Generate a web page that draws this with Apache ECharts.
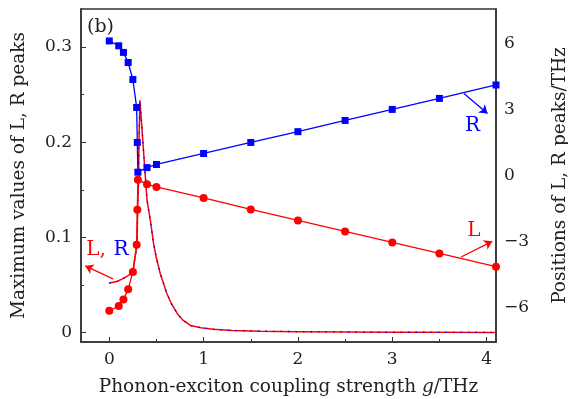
<!DOCTYPE html>
<html>
<head>
<meta charset="utf-8">
<script src="https://cdn.jsdelivr.net/npm/echarts@6/dist/echarts.min.js"></script>
<style>
  html, body { margin: 0; padding: 0; background: #fff; }
  #chart { width: 568px; height: 399px; }
</style>
</head>
<body>
<div id="chart"></div>
<script>
// coupling strength g (THz) for the marker series
var gPeaks = [0, 0.1, 0.15, 0.2, 0.25, 0.29, 0.297, 0.303, 0.4, 0.5, 1, 1.5, 2, 2.5, 3, 3.5, 4.1];
// positions of the R and L peaks (THz), right axis
var rPos = [6.10, 5.88, 5.58, 5.12, 4.35, 3.08, 1.49, 0.14, 0.35, 0.49, 0.99, 1.49, 1.98, 2.49, 2.99, 3.49, 4.10];
var lPos = [-6.15, -5.94, -5.64, -5.17, -4.39, -3.15, -1.56, -0.20, -0.41, -0.53, -1.03, -1.55, -2.05, -2.55, -3.05, -3.55, -4.15];

// maximum values of L, R peaks (left axis), L and R curves coincide
var gMax = [0, 0.08, 0.17, 0.22, 0.25, 0.294, 0.30, 0.31, 0.315, 0.325, 0.36, 0.4, 0.435, 0.47, 0.5, 0.54, 0.61, 0.66, 0.72, 0.78, 0.86, 0.97, 1.1, 1.3, 1.6, 2, 2.5, 3, 3.5, 4.1];
var maxL = [0.052, 0.0535, 0.058, 0.061, 0.064, 0.092, 0.128, 0.16, 0.202, 0.244, 0.195, 0.139, 0.118, 0.093, 0.078, 0.062, 0.041, 0.030, 0.020, 0.013, 0.0074, 0.005, 0.0035, 0.0022, 0.0014, 0.0009, 0.0005, 0.0003, 0.0002, 0.0001];
var maxR = maxL.slice();

var xTicks = [0, 1, 2, 3, 4];
var xMinor = [0.5, 1.5, 2.5, 3.5];
var yLeftTicks = [0, 0.1, 0.2, 0.3];
var yLeftMinor = [0.05, 0.15, 0.25];
var yRightTicks = [-6, -3, 0, 3, 6];

function pairs(xs, ys) {
  return xs.map(function (x, i) { return [x, ys[i]]; });
}

var FONT = "DejaVu Serif";
var AXIS = "#333";
var TEXT = "#222";
var RED = "#ff0000";
var BLUE = "#0000ff";

var chart = echarts.init(document.getElementById("chart"));

var option = {
  animation: false,
  backgroundColor: "#fff",
  textStyle: { fontFamily: FONT },
  grid: {
    left: 81, right: 72, top: 9, bottom: 57, containLabel: false, outerBoundsMode: "none",
    show: true, borderColor: AXIS, borderWidth: 1.5
  },
  xAxis: [
    {
      type: "value", min: -0.3, max: 4.1, position: "bottom",
      name: "Phonon-exciton coupling strength {i|g}/THz",
      nameLocation: "middle", nameGap: 36,
      nameTextStyle: { fontFamily: FONT, fontSize: 18.5, color: TEXT,
        rich: { i: { fontFamily: FONT, fontStyle: "italic", fontSize: 18.5, color: TEXT } } },
      axisLine: { show: true, onZero: false, lineStyle: { color: AXIS, width: 1.5 } },
      axisTick: { show: true, inside: true, length: 5, customValues: xTicks, lineStyle: { color: AXIS } },
      axisLabel: { customValues: xTicks, color: TEXT, fontSize: 17, fontFamily: FONT, margin: 9 },
      splitLine: { show: false }
    },
    {
      type: "value", min: -0.3, max: 4.1, position: "bottom",
      axisLine: { show: false, onZero: false },
      axisTick: { show: true, inside: true, length: 3, customValues: xMinor, lineStyle: { color: AXIS } },
      axisLabel: { show: false },
      splitLine: { show: false }
    }
  ],
  yAxis: [
    {
      type: "value", min: -0.01, max: 0.34, position: "left",
      name: "Maximum values of L, R peaks",
      nameLocation: "middle", nameGap: 52, nameRotate: 90,
      nameTextStyle: { fontFamily: FONT, fontSize: 18.5, color: TEXT },
      axisLine: { show: true, onZero: false, lineStyle: { color: AXIS, width: 1.5 } },
      axisTick: { show: true, inside: true, length: 5, customValues: yLeftTicks, lineStyle: { color: AXIS } },
      axisLabel: { customValues: yLeftTicks, color: TEXT, fontSize: 17, fontFamily: FONT, margin: 9 },
      splitLine: { show: false }
    },
    {
      type: "value", min: -7.57, max: 7.55, position: "right",
      name: "Positions of L, R peaks/THz",
      nameLocation: "middle", nameGap: 55, nameRotate: 90,
      nameTextStyle: { fontFamily: FONT, fontSize: 18.5, color: TEXT },
      axisLine: { show: true, onZero: false, lineStyle: { color: AXIS, width: 1.5 } },
      axisTick: { show: false },
      axisLabel: {
        customValues: yRightTicks, color: TEXT, fontSize: 17, fontFamily: FONT, margin: 8,
        formatter: function (v) { return String(v).replace("-", "\u2212"); }
      },
      splitLine: { show: false }
    },
    {
      type: "value", min: -0.01, max: 0.34, position: "left",
      axisLine: { show: false, onZero: false },
      axisTick: { show: true, inside: true, length: 3, customValues: yLeftMinor, lineStyle: { color: AXIS } },
      axisLabel: { show: false },
      splitLine: { show: false }
    }
  ],
  graphic: [
    { type: "text", left: 87, top: 18, style: { text: "(b)", font: "19px " + FONT, fill: TEXT } }
  ],
  series: [
    {
      name: "max L", type: "line", xAxisIndex: 0, yAxisIndex: 0,
      data: pairs(gMax, maxL), showSymbol: false, z: 3,
      lineStyle: { color: RED, width: 1.5 },
      markLine: {
        silent: true, symbol: ["none", "arrow"], symbolSize: 8,
        lineStyle: { color: RED, width: 1.3, type: "solid" }, label: { show: false },
        data: [[{ coord: [0.039, 0.0564] }, { coord: [-0.255, 0.070] }]]
      },
      markPoint: {
        silent: true, symbolSize: 0,
        data: [{
          coord: [-0.02, 0.0874],
          label: {
            show: true, formatter: "{l|L,}  {r|R}",
            rich: {
              l: { color: RED, fontSize: 20, fontFamily: FONT },
              r: { color: BLUE, fontSize: 20, fontFamily: FONT }
            }
          }
        }]
      }
    },
    {
      name: "max R", type: "line", xAxisIndex: 0, yAxisIndex: 0,
      data: pairs(gMax, maxR), showSymbol: false, z: 4,
      lineStyle: { color: BLUE, width: 1.3, type: [1.5, 6] }
    },
    {
      name: "R", type: "line", xAxisIndex: 0, yAxisIndex: 1,
      data: pairs(gPeaks, rPos), symbol: "rect", symbolSize: 7, z: 5,
      itemStyle: { color: BLUE }, lineStyle: { color: BLUE, width: 1.3 },
      markLine: {
        silent: true, symbol: ["none", "arrow"], symbolSize: 8,
        lineStyle: { color: BLUE, width: 1.3, type: "solid" }, label: { show: false },
        data: [[{ coord: [3.76, 3.71] }, { coord: [4.01, 2.80] }]]
      },
      markPoint: {
        silent: true, symbolSize: 0,
        data: [{ coord: [3.85, 2.23], label: { show: true, formatter: "R", color: BLUE, fontSize: 20, fontFamily: FONT } }]
      }
    },
    {
      name: "L", type: "line", xAxisIndex: 0, yAxisIndex: 1,
      data: pairs(gPeaks, lPos), symbol: "circle", symbolSize: 8, z: 5,
      itemStyle: { color: RED }, lineStyle: { color: RED, width: 1.3 },
      markLine: {
        silent: true, symbol: ["none", "arrow"], symbolSize: 8,
        lineStyle: { color: RED, width: 1.3, type: "solid" }, label: { show: false },
        data: [[{ coord: [3.73, -3.71] }, { coord: [4.06, -3.0] }]]
      },
      markPoint: {
        silent: true, symbolSize: 0,
        data: [{ coord: [3.865, -2.53], label: { show: true, formatter: "L", color: RED, fontSize: 20, fontFamily: FONT } }]
      }
    }
  ]
};

chart.setOption(option);
</script>
</body>
</html>
